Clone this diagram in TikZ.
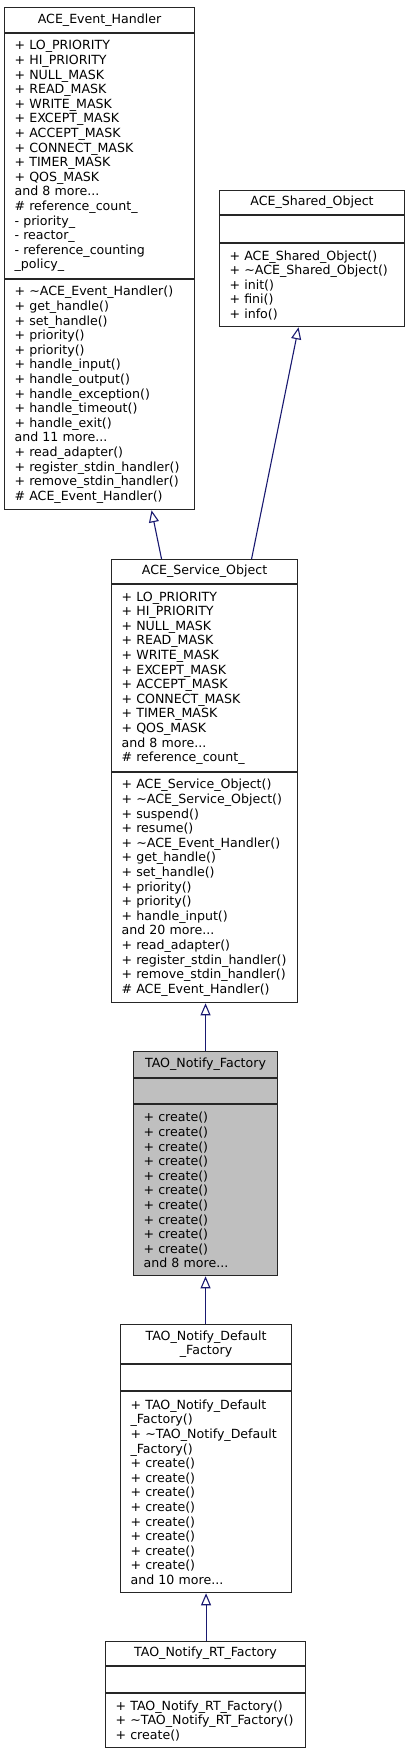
\documentclass[tikz,border=0pt]{standalone}
\usepackage{fontspec}
\usepackage{tikz}
\usetikzlibrary{arrows.meta, positioning}

\newfontfamily\classfont{DejaVu Sans}
\newcommand{\umlfont}{\classfont\fontsize{12.6pt}{14.6pt}\selectfont}
\definecolor{edgeblue}{RGB}{25,25,112}
\definecolor{hilite}{RGB}{191,191,191}

\tikzset{
  classbox/.style={draw=black!85, line width=1.1pt, fill=white, inner xsep=10pt,
    inner ysep=0pt, font=\umlfont, align=left},
  classtitle/.style={classbox, align=center},
  inherit/.style={draw=edgeblue, line width=1.1pt,
    -{Triangle[open, length=12pt, width=10pt]}},
}

\begin{document}
\begin{tikzpicture}[x=1pt, y=-1pt]
  \useasboundingbox (0,0) rectangle (409,1752);

  % ACE_Event_Handler
  \node[classtitle, text width=170pt, minimum height=25pt, anchor=north west]
    (evh_title) at (4,7) {ACE\_Event\_Handler};
  \node[classbox, text width=170pt, minimum height=245pt, below=0pt of evh_title]
    (evh_attr) {+ LO\_PRIORITY\\+ HI\_PRIORITY\\+ NULL\_MASK\\+ READ\_MASK\\
    + WRITE\_MASK\\+ EXCEPT\_MASK\\+ ACCEPT\_MASK\\+ CONNECT\_MASK\\
    + TIMER\_MASK\\+ QOS\_MASK\\and 8 more...\\\# reference\_count\_\\
    - priority\_\\- reactor\_\\- reference\_counting\\\_policy\_};
  \node[classbox, text width=170pt, minimum height=230pt, below=0pt of evh_attr]
    (evh_ops) {+ \textasciitilde ACE\_Event\_Handler()\\+ get\_handle()\\
    + set\_handle()\\+ priority()\\+ priority()\\+ handle\_input()\\
    + handle\_output()\\+ handle\_exception()\\+ handle\_timeout()\\
    + handle\_exit()\\and 11 more...\\+ read\_adapter()\\
    +~register\_stdin\_handler()\\+~remove\_stdin\_handler()\\
    \# ACE\_Event\_Handler()};

  % ACE_Shared_Object
  \node[classtitle, text width=165pt, minimum height=24pt, anchor=north west]
    (shobj_title) at (219,190) {ACE\_Shared\_Object};
  \node[classbox, text width=165pt, minimum height=27pt, below=0pt of shobj_title]
    (shobj_attr) {};
  \node[classbox, text width=165pt, minimum height=83pt, below=0pt of shobj_attr]
    (shobj_ops) {+ ACE\_Shared\_Object()\\+~\textasciitilde ACE\_Shared\_Object()\\
    + init()\\+ fini()\\+ info()};

  % ACE_Service_Object
  \node[classtitle, text width=166pt, minimum height=24pt, anchor=north west]
    (svc_title) at (111,559) {ACE\_Service\_Object};
  \node[classbox, text width=166pt, minimum height=187pt, below=0pt of svc_title]
    (svc_attr) {+ LO\_PRIORITY\\+ HI\_PRIORITY\\+ NULL\_MASK\\+ READ\_MASK\\
    + WRITE\_MASK\\+ EXCEPT\_MASK\\+ ACCEPT\_MASK\\+ CONNECT\_MASK\\
    + TIMER\_MASK\\+ QOS\_MASK\\and 8 more...\\\# reference\_count\_};
  \node[classbox, text width=166pt, minimum height=230pt, below=0pt of svc_attr]
    (svc_ops) {+ ACE\_Service\_Object()\\+~\textasciitilde ACE\_Service\_Object()\\
    + suspend()\\+ resume()\\+ \textasciitilde ACE\_Event\_Handler()\\
    + get\_handle()\\+ set\_handle()\\+ priority()\\+ priority()\\
    + handle\_input()\\and 20 more...\\+ read\_adapter()\\
    +~register\_stdin\_handler()\\+~remove\_stdin\_handler()\\
    \# ACE\_Event\_Handler()};

  % TAO_Notify_Factory
  \node[classtitle, fill=hilite, text width=124pt, minimum height=26pt, anchor=north west]
    (fac_title) at (133,1051) {TAO\_Notify\_Factory};
  \node[classbox, fill=hilite, text width=124pt, minimum height=25pt, below=0pt of fac_title]
    (fac_attr) {};
  \node[classbox, fill=hilite, text width=124pt, minimum height=171pt, below=0pt of fac_attr]
    (fac_ops) {+ create()\\+ create()\\+ create()\\+ create()\\+ create()\\
    + create()\\+ create()\\+ create()\\+ create()\\+ create()\\and 8 more...};

  % TAO_Notify_Default_Factory
  \node[classtitle, text width=151pt, minimum height=39pt, anchor=north west]
    (dfac_title) at (120,1324) {TAO\_Notify\_Default\\\_Factory};
  \node[classbox, text width=151pt, minimum height=26pt, below=0pt of dfac_title]
    (dfac_attr) {};
  \node[classbox, text width=151pt, minimum height=201pt, below=0pt of dfac_attr]
    (dfac_ops) {+~TAO\_Notify\_Default\\\_Factory()\\
    +~\textasciitilde TAO\_Notify\_Default\\\_Factory()\\
    + create()\\+ create()\\+ create()\\+ create()\\+ create()\\
    + create()\\+ create()\\+ create()\\and 10 more...};

  % TAO_Notify_RT_Factory
  \node[classtitle, text width=180pt, minimum height=24pt, anchor=north west]
    (rtf_title) at (105,1641) {TAO\_Notify\_RT\_Factory};
  \node[classbox, text width=180pt, minimum height=26pt, below=0pt of rtf_title]
    (rtf_attr) {};
  \node[classbox, text width=180pt, minimum height=54pt, below=0pt of rtf_attr]
    (rtf_ops) {+~TAO\_Notify\_RT\_Factory()\\+~\textasciitilde TAO\_Notify\_RT\_Factory()\\
    + create()};

  % inheritance
  \draw[inherit] ([xshift=-43pt]svc_title.north) -- ([xshift=52pt]evh_ops.south);
  \draw[inherit] ([xshift=47pt]svc_title.north) -- ([xshift=-13.5pt]shobj_ops.south);
  \draw[inherit] (fac_title.north) -- (svc_ops.south -| fac_title.north);
  \draw[inherit] (dfac_title.north -| fac_ops.south) -- (fac_ops.south);
  \draw[inherit] (rtf_title.north -| dfac_ops.south) -- (dfac_ops.south);
\end{tikzpicture}
\end{document}
